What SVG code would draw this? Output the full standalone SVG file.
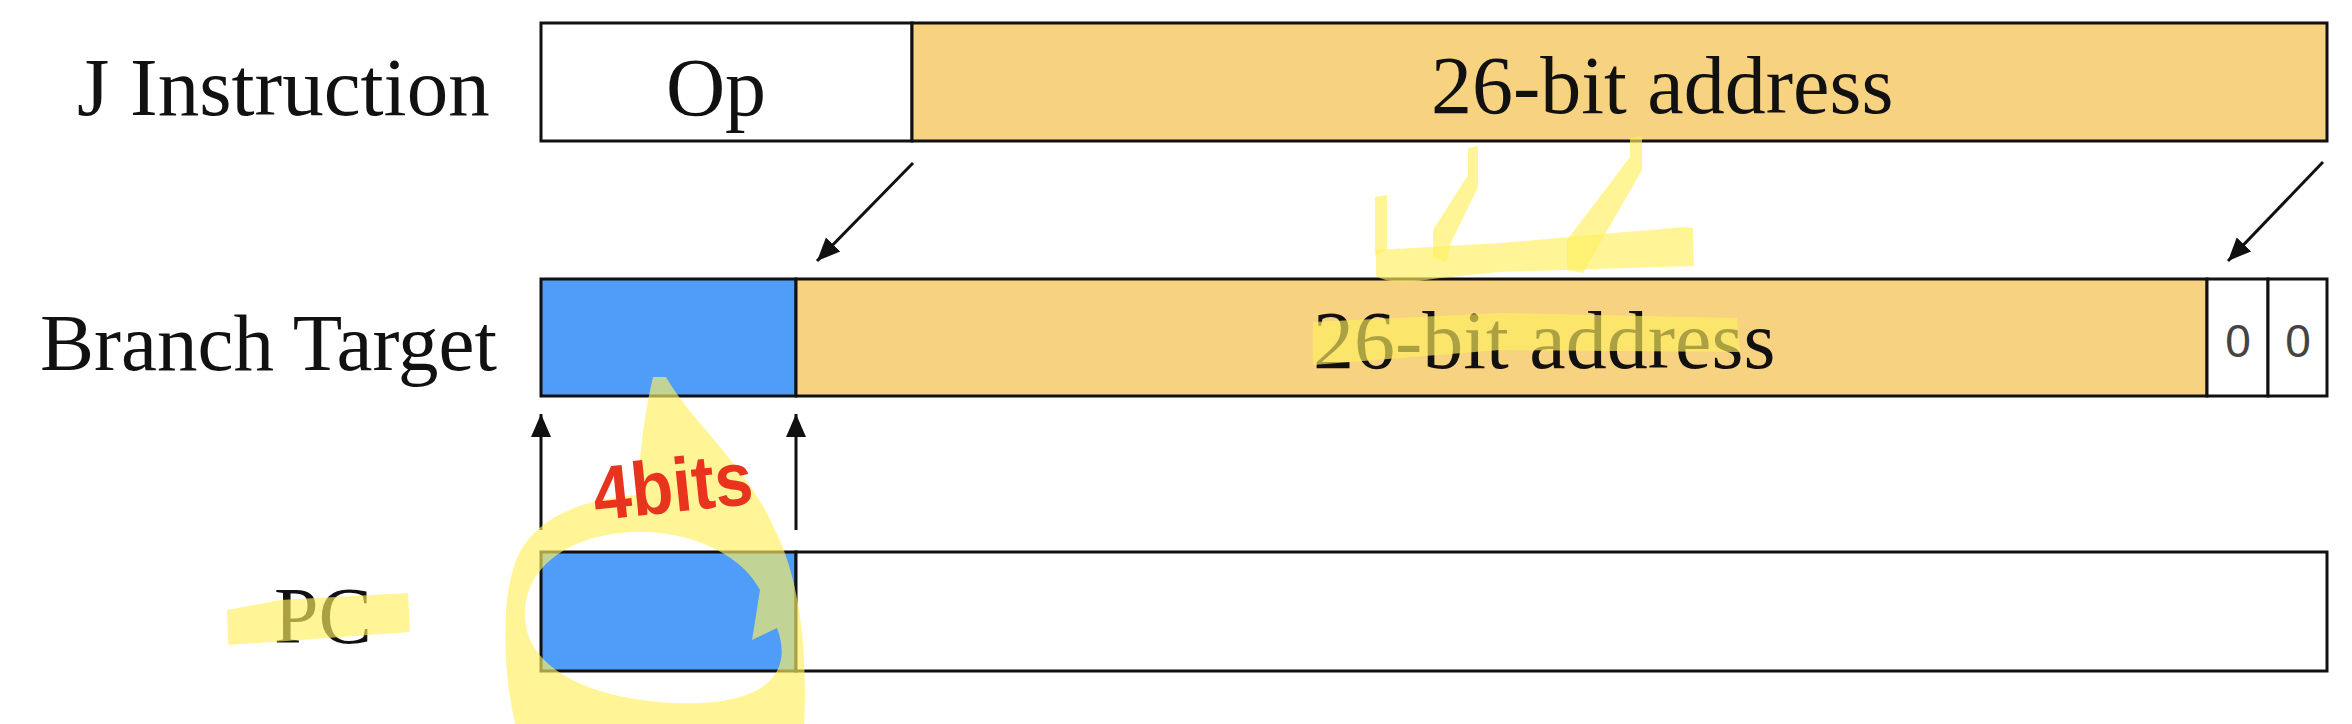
<svg xmlns="http://www.w3.org/2000/svg" width="2352" height="724" viewBox="0 0 2352 724">
  <style>
    .box { stroke: #111; stroke-width: 3; }
    .white { fill: #ffffff; }
    .orange { fill: #f7d281; }
    .blue { fill: #4f9df8; }
    .lbl { font-family: "Liberation Serif", "Times New Roman", serif; fill: #111; }
    .zero { font-family: "Liberation Sans", Arial, sans-serif; font-size: 46px; fill: #444; text-anchor: middle; }
    .conn { stroke: #111; stroke-width: 3; fill: none; marker-end: url(#arrow); }
    .hl { fill: #fff060; opacity: 0.65; }
  </style>
  <defs>
    <marker id="arrow" viewBox="0 0 24 22" markerWidth="24" markerHeight="22" refX="23" refY="11" orient="auto" markerUnits="userSpaceOnUse">
      <path d="M0,1 L23,11 L0,21 z" fill="#111"/>
    </marker>
  </defs>
  <rect width="2352" height="724" fill="#ffffff"/>

  <g id="node-j-instruction">
    <text class="lbl" x="77" y="115" font-size="83">J Instruction</text>
    <rect class="box white" x="541" y="23" width="371" height="118"/>
    <rect class="box orange" x="912" y="23" width="1415" height="118"/>
    <text class="lbl" x="716" y="115" font-size="82" text-anchor="middle">Op</text>
    <text class="lbl" x="1431" y="113" font-size="82">26-bit address</text>
  </g>

  <g id="node-branch-target">
    <text class="lbl" x="40" y="370" font-size="81">Branch Target</text>
    <rect class="box blue" x="541" y="279" width="255" height="117"/>
    <rect class="box orange" x="796" y="279" width="1411" height="117"/>
    <rect class="box white" x="2207" y="279" width="61" height="117"/>
    <rect class="box white" x="2268" y="279" width="59" height="117"/>
    <text class="lbl" x="1313" y="368" font-size="82">26-bit address</text>
    <text class="zero" x="2238" y="357">0</text>
    <text class="zero" x="2298" y="357">0</text>
  </g>

  <g id="node-pc">
    <text class="lbl" x="274" y="643" font-size="80">PC</text>
    <rect class="box blue" x="541" y="552" width="255" height="119"/>
    <rect class="box white" x="796" y="552" width="1531" height="119"/>
  </g>

  <g id="connectors">
    <line class="conn" x1="913" y1="163" x2="817" y2="261"/>
    <line class="conn" x1="2323" y1="162" x2="2228" y2="261"/>
    <line class="conn" x1="541" y1="530" x2="541" y2="414"/>
    <line class="conn" x1="796" y1="530" x2="796" y2="414"/>
  </g>

  <g id="annotations">
    <polygon class="hl" points="1375,197 1387,195 1387,250 1375,255"/>
    <polygon class="hl" points="1468,148 1478,146 1478,187 1450,245 1447,262 1433,258 1433,230 1468,175"/>
    <polygon class="hl" points="1630,138 1642,136 1642,170 1583,273 1567,270 1567,240 1630,157"/>
    <path class="hl" d="M1376,250 L1500,243 L1683,227 L1693,228 L1694,266 L1500,272 L1440,278 Q1390,286 1376,276 Z"/>
    <path class="hl" d="M1313,322 L1500,313 L1737,318 L1740,352 L1500,350 L1313,365 Z"/>
    <path class="hl" d="M227,610 L280,600 L408,593 L410,632 L300,640 L228,645 Z"/>
    <path class="hl" fill-rule="evenodd" d="M653,377 L666,377 C690,420 750,470 775,530 C800,580 808,650 804,730 L517,730 C505,690 500,610 513,570 C525,525 570,500 637,495 C640,450 645,410 653,377 Z M525,615 C525,560 580,532 640,532 C700,532 745,560 760,590 L752,640 L777,628 C792,668 772,700 700,703 C620,706 525,680 525,615 Z"/>
    <text x="592" y="512" font-family="Liberation Sans, Arial, sans-serif" font-size="76" font-weight="bold" fill="#e8341f" textLength="160" lengthAdjust="spacingAndGlyphs" transform="rotate(-6 672 480)">4bits</text>
  </g>
</svg>
